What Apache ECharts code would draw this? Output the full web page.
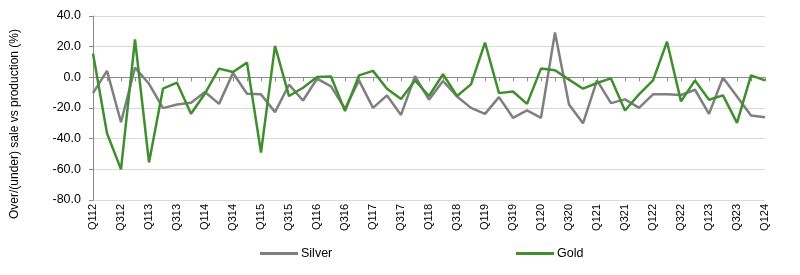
<!DOCTYPE html>
<html><head><meta charset="utf-8">
<script src="https://cdn.jsdelivr.net/npm/echarts@6/dist/echarts.min.js"></script>
<style>html,body{margin:0;padding:0;background:#fff}#c{width:800px;height:275px}</style>
</head><body><div id="c"></div>
<script>
var categories = [];
var years = ['12','13','14','15','16','17','18','19','20','21','22','23'];
years.forEach(function(y){ for (var q=1;q<=4;q++) categories.push('Q'+q+y); });
categories.push('Q124');

var silver = [-10.3, 4.2, -29.3, 6.3, -4.2, -20.1, -17.7, -16.6, -9.6, -17.3, 2.8, -10.7, -11.1, -22.7,
  -4.8, -15.1, -0.9, -5.9, -20.5, -2.0, -19.9, -11.8, -24.5, 0.7, -14.6, -2.4, -12.5, -19.9, -23.8,
  -12.9, -26.4, -21.6, -26.4, 29.3, -17.7, -30.0, -2.0, -16.8, -14.4, -19.9, -11.1, -11.1, -11.5,
  -8.1, -23.8, -0.2, -12.5, -24.9, -26.0];
var gold = [15.5, -36.5, -60.0, 24.7, -55.5, -7.4, -3.5, -23.8, -10.5, 5.7, 3.5, 9.6, -49.0, 20.5,
  -12.2, -6.8, 0.2, 0.6, -22.0, 1.3, 4.2, -7.4, -14.2, -2.0, -12.2, 2.0, -12.2, -4.6, 22.7,
  -10.3, -9.2, -17.3, 5.7, 4.6, -1.5, -7.4, -3.7, -0.7, -21.6, -11.1, -2.0, 23.2, -15.7, -2.0,
  -14.6, -11.8, -29.7, 1.3, -2.0];
var yTicks = {min: -80, max: 40, step: 20};
var yTitle = 'Over/(under) sale vs production (%)';

var font = '"Liberation Sans", Arial, sans-serif';
var chart = echarts.init(document.getElementById('c'), null, {renderer: 'canvas'});
chart.setOption({
  animation: false,
  grid: {left: 93, right: 35, top: 16, bottom: 75, containLabel: false},
  graphic: [{type: 'text', x: 15, y: 124, rotation: Math.PI / 2,
    style: {text: yTitle, font: '12px ' + font, fill: '#000', align: 'center', verticalAlign: 'middle'}}],
  legend: [
    {data: ['Silver'], left: 255, top: 242, itemWidth: 38, itemHeight: 3, itemGap: 4, icon: 'rect',
     textStyle: {fontFamily: font, fontSize: 12.5, color: '#000', padding: [0, 0, 0, -2]}},
    {data: ['Gold'], left: 511, top: 242, itemWidth: 38, itemHeight: 3, itemGap: 4, icon: 'rect',
     textStyle: {fontFamily: font, fontSize: 12.5, color: '#000', padding: [0, 0, 0, -2]}}
  ],
  xAxis: [
    {type: 'category', data: categories, boundaryGap: false,
     axisLine: {show: false, onZero: false}, axisTick: {show: false},
     axisLabel: {interval: 1, rotate: 90, margin: 4, fontFamily: font, fontSize: 11, color: '#000'},
     splitLine: {show: false}},
    {type: 'category', data: categories, boundaryGap: false, position: 'bottom',
     axisLine: {show: true, onZero: true, onZeroAxisIndex: 0, lineStyle: {color: '#8c8c8c', width: 1}},
     axisTick: {show: true, interval: 0, length: 4, lineStyle: {color: '#8c8c8c'}},
     axisLabel: {show: false}, splitLine: {show: false}}
  ],
  yAxis: {type: 'value', min: yTicks.min, max: yTicks.max, interval: yTicks.step,
    axisLine: {show: true, lineStyle: {color: '#8c8c8c'}},
    axisTick: {show: true, length: 4, lineStyle: {color: '#8c8c8c'}},
    axisLabel: {margin: 12, fontFamily: font, fontSize: 12.5, color: '#000',
      formatter: function(v){ return v.toFixed(1); }},
    splitLine: {show: true, lineStyle: {color: '#d9d9d9', width: 1}}},
  series: [
    {name: 'Silver', type: 'line', data: silver, xAxisIndex: 0, symbol: 'none',
     lineStyle: {color: '#7f7f7f', width: 2.5}, itemStyle: {color: '#7f7f7f'}, z: 2},
    {name: 'Gold', type: 'line', data: gold, xAxisIndex: 0, symbol: 'none',
     lineStyle: {color: '#3f8f2f', width: 2.5}, itemStyle: {color: '#3f8f2f'}, z: 3}
  ]
});
</script></body></html>
